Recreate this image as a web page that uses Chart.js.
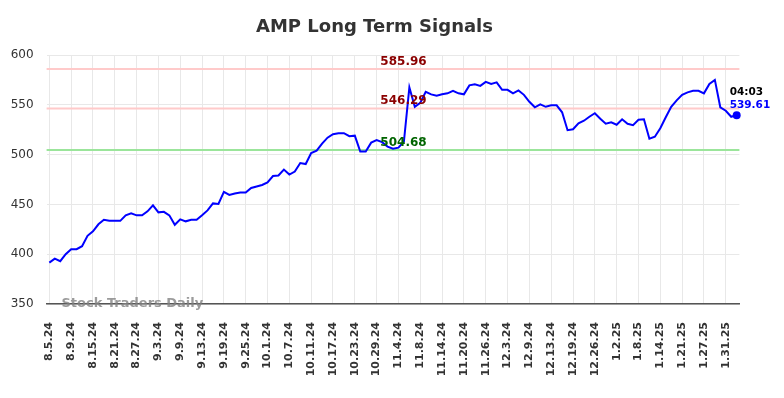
<!DOCTYPE html>
<html lang="en">
<head>
    <meta charset="UTF-8">
    <title>AMP Long Term Signals</title>
    <script src="https://cdn.jsdelivr.net/npm/chart.js"></script>
    <style>
        body { margin: 0; background: #fff; }
        #wrap { width: 784px; height: 398px; }
    </style>
</head>
<body>
    <div id="wrap"><canvas id="chart" width="784" height="398"></canvas></div>

    <script>
        // trading days shown on the x axis
        const dates = [
            '8.5.24','8.6.24','8.7.24','8.8.24','8.9.24','8.12.24','8.13.24','8.14.24','8.15.24','8.16.24',
            '8.19.24','8.20.24','8.21.24','8.22.24','8.23.24','8.26.24','8.27.24','8.28.24','8.29.24','8.30.24',
            '9.3.24','9.4.24','9.5.24','9.6.24','9.9.24','9.10.24','9.11.24','9.12.24','9.13.24','9.16.24',
            '9.17.24','9.18.24','9.19.24','9.20.24','9.23.24','9.24.24','9.25.24','9.26.24','9.27.24','9.30.24',
            '10.1.24','10.2.24','10.3.24','10.4.24','10.7.24','10.8.24','10.9.24','10.10.24','10.11.24','10.14.24',
            '10.15.24','10.16.24','10.17.24','10.18.24','10.21.24','10.22.24','10.23.24','10.24.24','10.25.24','10.28.24',
            '10.29.24','10.30.24','10.31.24','11.1.24','11.4.24','11.5.24','11.6.24','11.7.24','11.8.24','11.11.24',
            '11.12.24','11.13.24','11.14.24','11.15.24','11.18.24','11.19.24','11.20.24','11.21.24','11.22.24','11.25.24',
            '11.26.24','11.27.24','11.29.24','12.2.24','12.3.24','12.4.24','12.5.24','12.6.24','12.9.24','12.10.24',
            '12.11.24','12.12.24','12.13.24','12.16.24','12.17.24','12.18.24','12.19.24','12.20.24','12.23.24','12.24.24',
            '12.26.24','12.27.24','12.30.24','12.31.24','1.2.25','1.3.25','1.6.25','1.7.25','1.8.25','1.9.25',
            '1.10.25','1.13.25','1.14.25','1.15.25','1.16.25','1.17.25','1.21.25','1.22.25','1.23.25','1.24.25',
            '1.27.25','1.28.25','1.29.25','1.30.25','1.31.25','2.3.25','2.4.25'
        ];

        const prices = [
            391.5, 395.5, 393, 400, 405, 405, 408, 418.5, 423, 430,
            434.5, 433.5, 433.5, 433.5, 439, 441, 439, 439, 443, 449,
            442, 442.5, 439, 429.5, 435, 433, 434.5, 434.5, 439, 444,
            451, 450.5, 462.5, 459.5, 461, 462, 462, 466.5, 468, 469.5,
            472, 478.5, 479, 485, 480, 483, 491.5, 490.5, 501.5, 504,
            511, 517, 520.5, 521.5, 521.5, 518.5, 519, 503, 503, 512,
            514.5, 512.5, 508, 506, 507, 513, 567.5, 548, 552, 563,
            560.5, 559, 560.5, 561.5, 564, 561.5, 560.5, 569.5, 570.5, 569,
            573, 571, 572.5, 565, 565, 561.5, 564.5, 560, 553, 547.5,
            550.5, 548, 549.5, 549.5, 542.5, 524.5, 525.5, 531.5, 534, 538,
            541.5, 536, 531, 532.5, 530, 535.5, 531, 529.5, 535, 535.5,
            516, 518, 526.5, 537.5, 548, 554.5, 560, 562.5, 564, 564,
            561.5, 571, 575, 547.5, 544, 538, 539.61
        ];

        const levels = [585.96, 546.29, 504.68];
        const levelLineColors = ['#ffcaca', '#ffcaca', '#9be59b'];
        const levelTextColors = ['#8b0000', '#8b0000', '#006400'];
        const yTicks = [350, 400, 450, 500, 550, 600];
        const lastTime = '04:03';

        Chart.defaults.font.family = 'DejaVu Sans';

        const overlay = {
            id: 'overlay',
            beforeDatasetsDraw(chart) {
                const ctx = chart.ctx;
                const y = chart.scales.y;
                const area = chart.chartArea;
                ctx.save();
                levels.forEach((lv, i) => {
                    const py = y.getPixelForValue(lv);
                    ctx.strokeStyle = levelLineColors[i];
                    ctx.lineWidth = 2;
                    ctx.beginPath();
                    ctx.moveTo(area.left, py);
                    ctx.lineTo(area.right, py);
                    ctx.stroke();
                });
                // watermark
                ctx.font = 'bold 13px "DejaVu Sans"';
                ctx.fillStyle = 'rgba(130,130,130,0.8)';
                ctx.textAlign = 'left';
                ctx.textBaseline = 'alphabetic';
                ctx.fillText('Stock Traders Daily', 61.5, 307);
                ctx.restore();
            },
            afterDatasetsDraw(chart) {
                const ctx = chart.ctx;
                const y = chart.scales.y;
                ctx.save();
                ctx.font = 'bold 12px "DejaVu Sans"';
                ctx.textAlign = 'center';
                ctx.textBaseline = 'alphabetic';
                levels.forEach((lv, i) => {
                    ctx.fillStyle = levelTextColors[i];
                    ctx.fillText(lv.toFixed(2), 403.5, y.getPixelForValue(lv) - 4);
                });

                // last value label
                const meta = chart.getDatasetMeta(0);
                const last = meta.data[meta.data.length - 1];
                ctx.font = 'bold 10.5px "DejaVu Sans"';
                ctx.textAlign = 'left';
                ctx.fillStyle = '#000';
                ctx.fillText(lastTime, last.x - 7, last.y - 20);
                ctx.fillStyle = '#0000ff';
                ctx.fillText(prices[prices.length - 1].toFixed(2), last.x - 7, last.y - 7);

                // title
                ctx.font = 'bold 18px "DejaVu Sans"';
                ctx.textAlign = 'center';
                ctx.textBaseline = 'middle';
                ctx.fillStyle = '#333';
                ctx.fillText('AMP Long Term Signals', 374.5, 27);
                ctx.restore();
            }
        };

        new Chart(document.getElementById('chart'), {
            type: 'line',
            data: {
                labels: dates,
                datasets: [{
                    data: prices,
                    borderColor: '#0000ff',
                    backgroundColor: '#0000ff',
                    borderWidth: 2,
                    tension: 0,
                    pointRadius: ctx => ctx.dataIndex === prices.length - 1 ? 4 : 0,
                    pointBorderWidth: 0,
                    pointHoverRadius: 0
                }]
            },
            options: {
                responsive: false,
                animation: false,
                layout: { padding: { top: 55, left: 6, right: 44.6, bottom: 19 } },
                plugins: {
                    legend: { display: false },
                    tooltip: { enabled: false },
                    title: { display: false }
                },
                scales: {
                    x: {
                        offset: true,
                        afterFit(scale) { scale.height = 75; },
                        grid: { color: '#e8e8e8', drawTicks: false },
                        border: { color: '#555', width: 1.5 },
                        ticks: {
                            autoSkip: false,
                            maxRotation: 90,
                            minRotation: 90,
                            padding: 18,
                            color: '#333',
                            font: { size: 11, weight: 'bold' },
                            callback(value, index) {
                                return index % 4 === 0 ? dates[index] : null;
                            }
                        }
                    },
                    y: {
                        min: yTicks[0],
                        max: yTicks[yTicks.length - 1],
                        afterFit(scale) { scale.width = 40.6; },
                        afterBuildTicks(scale) { scale.ticks = yTicks.map(v => ({ value: v })); },
                        grid: { color: '#e8e8e8', drawTicks: false },
                        border: { display: false },
                        ticks: {
                            padding: 13,
                            color: '#333',
                            font: { size: 12 }
                        }
                    }
                }
            },
            plugins: [overlay]
        });
    </script>
</body>
</html>
